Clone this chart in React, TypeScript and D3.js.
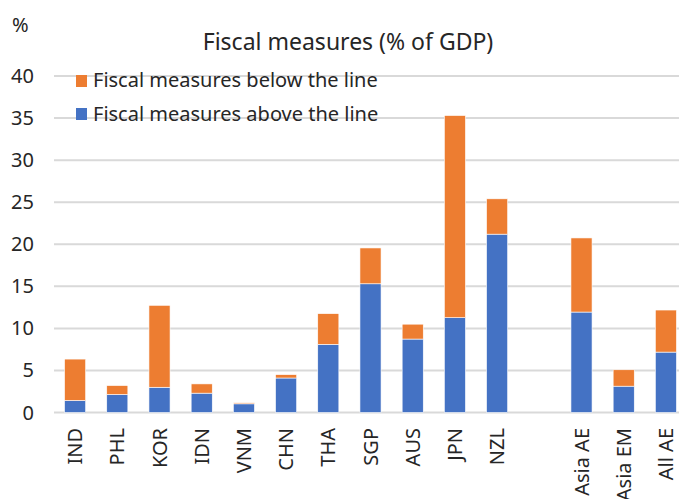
import React from "react";
import * as d3 from "d3";

const categories = ["IND", "PHL", "KOR", "IDN", "VNM", "CHN", "THA", "SGP", "AUS", "JPN", "NZL", "", "Asia AE", "Asia EM", "All AE"];
const aboveLine = [1.43, 2.14, 3.0, 2.3, 1.03, 4.1, 8.1, 15.3, 8.73, 11.27, 21.2, 0, 11.94, 3.13, 7.18];
const belowLine = [4.92, 1.06, 9.74, 1.1, 0.12, 0.4, 3.65, 4.26, 1.77, 24.03, 4.2, 0, 8.81, 1.95, 5.0];
const yTicks = [0, 5, 10, 15, 20, 25, 30, 35, 40];
const seriesNames = ["Fiscal measures below the line", "Fiscal measures above the line"];
const colors = { above: "#4472C4", below: "#ED7D31" };

const W = 679, H = 499;
const left = 54, right = 687, top = 76, bottom = 412.5;
const font = "'Noto Sans', sans-serif";
const ink = "#262626";

export default function App() {
  const keys = categories.map((c, i) => c + "_" + i);
  const x = d3.scaleBand<string>().domain(keys).range([left, right]).paddingInner(0.5).paddingOuter(0.25);
  const y = d3.scaleLinear().domain([0, 40]).range([bottom, top]);
  const data = categories.map((c, i) => ({ key: keys[i], above: aboveLine[i], below: belowLine[i] }));
  const stack = d3.stack<any>().keys(["above", "below"])(data);

  return (
    <svg width={W} height={H} style={{ position: "absolute", left: 0, top: 0, background: "#fff" }} fontFamily={font}>
      <text x={12} y={32} fontSize={20} fill={ink}>%</text>
      <text x={348} y={50} fontSize={23} fill={ink} textAnchor="middle">Fiscal measures (% of GDP)</text>
      {yTicks.map((t) => (
        <g key={t}>
          <line x1={left} x2={W} y1={y(t)} y2={y(t)} stroke="#d9d9d9" strokeWidth={2} />
          <text x={34} y={y(t) + 7} fontSize={20} fill={ink} textAnchor="end">{t}</text>
        </g>
      ))}
      {stack.map((s) => (
        <g key={s.key} fill={s.key === "above" ? colors.above : colors.below}>
          {s.map((d: any, i: number) => {
            const v = d[1] - d[0];
            if (v <= 0) return null;
            return (
              <rect key={i} x={x(keys[i])} width={x.bandwidth()} y={y(d[1])} height={y(d[0]) - y(d[1])} stroke="#fff" strokeWidth={0.6} />
            );
          })}
        </g>
      ))}
      {categories.map((c, i) => c ? (
        <text key={i} transform={`translate(${(x(keys[i]) as number) + x.bandwidth() / 2 + 7},428) rotate(-90)`} fontSize={20} fill={ink} textAnchor="end">{c}</text>
      ) : null)}
      <g>
        <rect x={76} y={75} width={11} height={12} fill={colors.below} />
        <text x={93} y={87} fontSize={20} fill={ink}>{seriesNames[0]}</text>
        <rect x={76} y={108} width={11} height={12} fill={colors.above} />
        <text x={93} y={121} fontSize={20} fill={ink}>{seriesNames[1]}</text>
      </g>
    </svg>
  );
}
